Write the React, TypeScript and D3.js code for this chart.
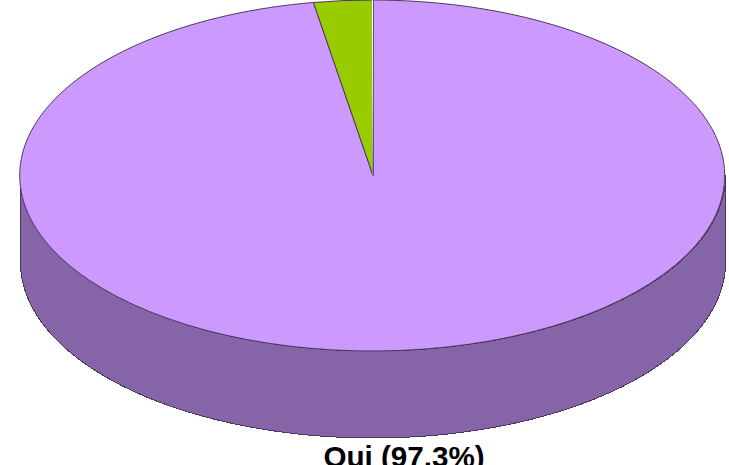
import React from "react";
import * as d3 from "d3";

// Values
const labels = ["Oui", "Non"];
const values = [97.3, 2.7];
const topColors = ["#CC99FF", "#99CC00"];
const sideColor = "#8565A8";
const outline = "#4A3B5C";

const width = 729;
const height = 465;
const cx = 373;
const cy = 175.5;
const rx = 352.5;
const ry = 175.5;
const depth = 87;

const App = () => {
  const pie = d3.pie<number>().sort(null);
  const slices = pie(values);
  // unit circle arc, squashed to an ellipse by the transform
  const arc = d3.arc<d3.PieArcDatum<number>>().innerRadius(0).outerRadius(1);

  // front wall of the cylinder: lower half of the rim, pushed down by depth
  const frontAngles = d3.range(0, 181).map(i => Math.PI / 2 + (i / 180) * Math.PI);
  const project = (a: number, dy: number) => [cx + rx * Math.sin(a), cy - ry * Math.cos(a) + dy] as [number, number];
  const wall = d3.line()([
    ...frontAngles.map(a => project(a, 0)),
    ...frontAngles.slice().reverse().map(a => project(a, depth)),
  ]) + "Z";

  return (
    <svg width={width} height={height} style={{ position: "absolute", left: 0, top: 0, background: "#fff" }}>
      <defs>
        <linearGradient id="sliver" gradientUnits="userSpaceOnUse" x1={0} y1={0} x2={0} y2={cy}>
          <stop offset="0" stopColor="#ffffff" />
          <stop offset="0.55" stopColor="#e8dcc8" />
          <stop offset="1" stopColor="#8a8a8a" />
        </linearGradient>
      </defs>
      <path d={wall} fill={sideColor} stroke={outline} strokeWidth={1} shapeRendering="crispEdges" />
      <g transform={`translate(${cx},${cy}) scale(${rx},${ry})`}>
        {slices.map((s, i) => (
          <path
            key={labels[i]}
            d={arc(s) as string}
            fill={topColors[i]}
            stroke={outline}
            strokeWidth={1}
            vectorEffect="non-scaling-stroke"
            shapeRendering="crispEdges"
          />
        ))}
      </g>
      <line x1={cx - 0.5} y1={0} x2={cx - 0.5} y2={cy} stroke="url(#sliver)" strokeWidth={1} />
      <text
        x={404}
        y={467}
        textAnchor="middle"
        fontFamily="'Liberation Sans', Arial, sans-serif"
        fontWeight="bold"
        fontSize={29.6}
        fill="#000"
      >
        {`${labels[0]} (${values[0]}%)`}
      </text>
    </svg>
  );
};

export default App;
